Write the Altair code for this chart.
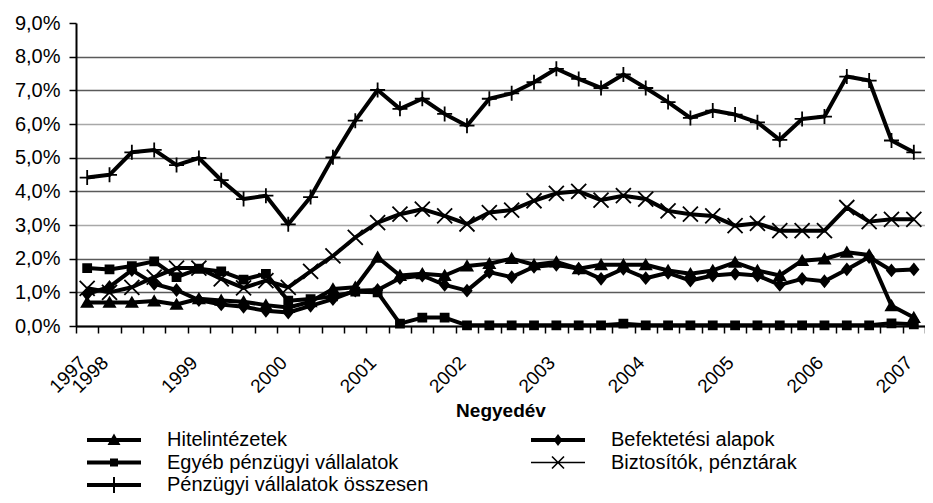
import altair as alt
import pandas as pd

series_names = [
    "Hitelintézetek",
    "Egyéb pénzügyi vállalatok",
    "Pénzügyi vállalatok összesen",
    "Befektetési alapok",
    "Biztosítók, pénztárak",
]

hitel = [0.70, 0.70, 0.70, 0.74, 0.64, 0.81, 0.76, 0.72, 0.62, 0.55, 0.72, 1.10, 1.15, 2.04, 1.50, 1.55, 1.50, 1.78, 1.85,
         2.00, 1.82, 1.90, 1.70, 1.82, 1.82, 1.82, 1.65, 1.55, 1.65, 1.89, 1.65, 1.50, 1.94, 1.99, 2.19, 2.11, 0.60, 0.25]
egyeb = [1.72, 1.68, 1.78, 1.92, 1.45, 1.70, 1.62, 1.38, 1.55, 0.75, 0.80, 0.88, 1.02, 1.00, 0.07, 0.25, 0.25, 0.02, 0.02,
         0.02, 0.02, 0.02, 0.02, 0.02, 0.07, 0.02, 0.02, 0.02, 0.02, 0.02, 0.02, 0.02, 0.02, 0.02, 0.02, 0.02, 0.08, 0.05]
osszes = [4.41, 4.49, 5.16, 5.23, 4.78, 4.99, 4.33, 3.77, 3.87, 3.02, 3.83, 5.01, 6.10, 7.01, 6.45, 6.75, 6.30, 5.95, 6.75,
          6.91, 7.24, 7.64, 7.34, 7.07, 7.47, 7.07, 6.65, 6.18, 6.40, 6.28, 6.05, 5.53, 6.15, 6.22, 7.41, 7.29, 5.51, 5.16]
befekt = [0.95, 1.16, 1.66, 1.25, 1.07, 0.77, 0.64, 0.57, 0.45, 0.40, 0.60, 0.80, 1.05, 1.07, 1.42, 1.50, 1.22, 1.05, 1.60,
          1.45, 1.76, 1.82, 1.70, 1.40, 1.70, 1.42, 1.58, 1.35, 1.50, 1.55, 1.50, 1.22, 1.40, 1.33, 1.68, 2.05, 1.65, 1.68]
biztos = [1.12, 1.00, 1.15, 1.45, 1.72, 1.72, 1.40, 1.13, 1.35, 1.15, 1.62, 2.08, 2.63, 3.07, 3.32, 3.47, 3.27, 3.03, 3.37,
          3.44, 3.72, 3.94, 4.00, 3.74, 3.87, 3.77, 3.42, 3.32, 3.27, 2.98, 3.05, 2.83, 2.83, 2.83, 3.52, 3.10, 3.17, 3.17]

tick_label_positions = [0, 1, 5, 9, 13, 17, 21, 25, 29, 33, 37]
tick_labels = ["1997", "1998", "1999", "2000", "2001", "2002", "2003", "2004", "2005", "2006", "2007"]
y_ticks = [0, 1, 2, 3, 4, 5, 6, 7, 8, 9]

values_by_series = [hitel, egyeb, osszes, befekt, biztos]
rows = []
for name, vals in zip(series_names, values_by_series):
    for i, v in enumerate(vals):
        rows.append({"series": name, "q": i + 0.5, "v": v})
df = pd.DataFrame(rows)

n_cat = len(osszes)

# marker shapes for the data points (same order as series_names)
point_paths = [
    "M0,-1L1.1,0.9L-1.1,0.9Z",
    "M-0.8,-0.8H0.8V0.8H-0.8Z",
    "M-1.5,0H1.5M0,-1.5V1.5",
    "M0,-1.1L0.9,0L0,1.1L-0.9,0Z",
    "M-1.5,-1.5L1.5,1.5M-1.5,1.5L1.5,-1.5",
]
# legend symbols: line segment + marker, all drawn as filled shapes
rect = "M-2.7,-0.2H2.7V0.2H-2.7Z"
thin = "M-2.7,-0.08H2.7V0.08H-2.7Z"
xa = "M-0.543,-0.657L0.657,0.543L0.543,0.657L-0.657,-0.543Z"
xb = "M-0.657,0.543L0.543,-0.657L0.657,-0.543L-0.543,0.657Z"
legend_paths = [
    rect + "M0,-0.65L0.65,0.5L-0.65,0.5Z",
    rect + "M-0.4,-0.4H0.4V0.4H-0.4Z",
    rect + "M-0.1,-0.8H0.1V0.8H-0.1Z",
    rect + "M0,-0.6L0.45,0L0,0.6L-0.45,0Z",
    thin + xa + xb,
]
line_widths = [4, 4, 4, 4, 1.6]

label_expr = " : ".join(
    f"datum.value == {p} ? '{t}'" for p, t in zip(tick_label_positions, tick_labels)
) + " : ''"

FONT = "Liberation Sans"

x_enc = alt.X(
    "q:Q",
    scale=alt.Scale(domain=[0, n_cat], nice=False, zero=False),
    axis=alt.Axis(
        values=list(range(n_cat + 1)),
        labelExpr=label_expr,
        labelAngle=315,
        labelAlign="right",
        labelBaseline="top",
        labelOverlap=False,
        labelFlush=False,
        labelFontSize=19,
        labelPadding=20,
        tickSize=7,
        tickWidth=1.5,
        tickColor="black",
        domainColor="black",
        domainWidth=2,
        grid=False,
        title="Negyedév",
        titleFontSize=19,
        titleFontWeight="bold",
        titlePadding=5,
    ),
)
y_enc = alt.Y(
    "v:Q",
    scale=alt.Scale(domain=[0, 9], nice=False),
    axis=alt.Axis(
        values=y_ticks,
        labelExpr="replace(format(datum.value, '.1f'), '.', ',') + '%'",
        labelFontSize=20,
        labelPadding=9,
        tickSize=7,
        tickWidth=1.5,
        tickColor="black",
        domainColor="black",
        domainWidth=2,
        grid=True,
        gridColor={"condition": {"test": "abs(datum.value - 3) < 0.01 || abs(datum.value - 6) < 0.01",
                                 "value": "#a8a8a8"}, "value": "#5a5a5a"},
        gridOpacity={"condition": {"test": "datum.value > 8.5", "value": 0}, "value": 1},
        gridWidth=1.3,
        title=None,
    ),
)

lines = alt.Chart(df).mark_line(color="black", strokeJoin="round").encode(
    x=x_enc,
    y=y_enc,
    detail="series:N",
    strokeWidth=alt.StrokeWidth(
        "series:O", scale=alt.Scale(domain=series_names, range=line_widths), legend=None
    ),
)

points = alt.Chart(df).mark_point(filled=True, color="black", stroke="black", strokeWidth=1.8, opacity=1, size=100).encode(
    x=x_enc,
    y=y_enc,
    shape=alt.Shape("series:N", scale=alt.Scale(domain=series_names, range=point_paths), legend=None),
)

legend_layer = alt.Chart(df).transform_filter("datum.v < -100").mark_point(
    filled=True, color="black", opacity=1
).encode(
    x=x_enc,
    y=y_enc,
    shape=alt.Shape(
        "series:N",
        scale=alt.Scale(domain=series_names, range=legend_paths),
        legend=alt.Legend(
            title=None,
            orient="none",
            legendX=27,
            legendY=406,
            columns=2,
            columnPadding=99,
            rowPadding=1.5,
            symbolSize=400,
            symbolFillColor="black",
            symbolOpacity=1,
            labelFontSize=20,
            labelFont=FONT,
            labelColor="black",
            labelOffset=42,
            labelLimit=400,
        ),
    ),
)

chart = (
    alt.layer(lines, points, legend_layer)
    .resolve_scale(shape="independent")
    .properties(
        width=849,
        height=303,
        autosize=alt.AutoSizeParams(type="none"),
        padding={"left": 68, "top": 15, "right": 0, "bottom": 169},
    )
    .configure(font=FONT)
    .configure_axis(labelFont=FONT, titleFont=FONT, labelColor="black", titleColor="black")
    .configure_view(stroke=None)
)

chart.save("out.html", embed_options={"renderer": "svg", "actions": False})
